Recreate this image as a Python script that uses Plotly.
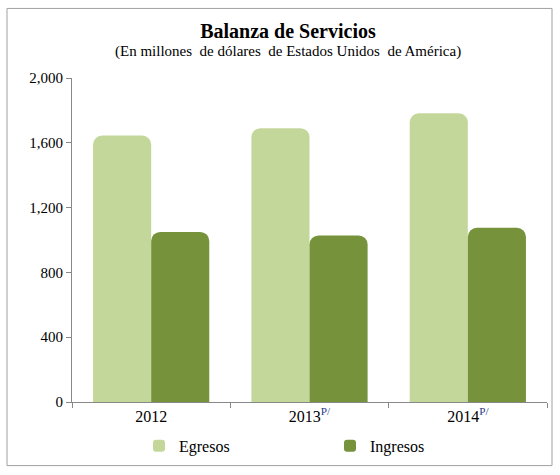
import plotly.graph_objects as go

categories = ["2012", "2013", "2014"]
tick_labels = ["2012", "2013<sup><span style='color:#1f3a8a'>P/</span></sup>",
               "2014<sup><span style='color:#1f3a8a'>P/</span></sup>"]
egresos = [1645, 1690, 1782]
ingresos = [1050, 1028, 1075]
y_ticks = [0, 400, 800, 1200, 1600, 2000]

FONT = "Liberation Serif, Times New Roman, serif"
W, H = 560, 475
ML, MR, MT, MB = 72, 13, 78, 71

fig = go.Figure()
fig.add_trace(go.Bar(name="Egresos", x=categories, y=egresos,
                     marker=dict(color="#c4d79b", line=dict(width=0), cornerradius=9)))
fig.add_trace(go.Bar(name="Ingresos", x=categories, y=ingresos,
                     marker=dict(color="#76933c", line=dict(width=0), cornerradius=9)))

pw, ph = W - ML - MR, H - MT - MB

fig.update_layout(
    width=W, height=H,
    margin=dict(l=ML, r=MR, t=MT, b=MB),
    paper_bgcolor="white", plot_bgcolor="white",
    barmode="group", bargap=0.266, bargroupgap=0,
    font=dict(family=FONT, color="black", size=15),
    title=dict(text="<b>Balanza de Servicios</b>", x=288 / W, xanchor="center",
               y=1 - 31 / H, yanchor="middle", font=dict(size=20, family=FONT)),
    xaxis=dict(tickmode="array", tickvals=categories, ticktext=tick_labels,
               tickson="boundaries", ticks="outside", ticklen=5, tickcolor="#888",
               showline=True, linecolor="#888", linewidth=1, showgrid=False,
               tickfont=dict(size=16, family=FONT, color="black")),
    yaxis=dict(range=[0, 2000], tickvals=y_ticks, tickformat=",", ticks="outside",
               ticklen=5, tickcolor="#888", showline=True, linecolor="#888",
               linewidth=1, showgrid=False, zeroline=False,
               tickfont=dict(size=15, family=FONT, color="black")),
    legend=dict(orientation="h", x=(330 - ML) / pw, xanchor="center",
                y=(404 - 448) / ph, yanchor="middle", entrywidth=146,
                font=dict(size=16, family=FONT, color="black"), itemwidth=30),
    annotations=[dict(text="(En millones  de dólares  de Estados Unidos  de América)",
                      xref="paper", yref="paper", x=(288 - ML) / pw, xanchor="center",
                      y=(404 - 51) / ph, yanchor="middle", showarrow=False,
                      font=dict(size=15, family=FONT, color="black"))],
    shapes=[dict(type="rect", xref="paper", yref="paper",
                 x0=(7 - ML) / pw, x1=(552 - ML) / pw,
                 y0=(404 - 468) / ph, y1=(404 - 8) / ph,
                 line=dict(color="#a0a0a0", width=1), fillcolor="rgba(0,0,0,0)",
                 layer="below")],
)

fig.write_html("out.html", config={"displayModeBar": False},
               post_script="document.body.style.margin='0';")
